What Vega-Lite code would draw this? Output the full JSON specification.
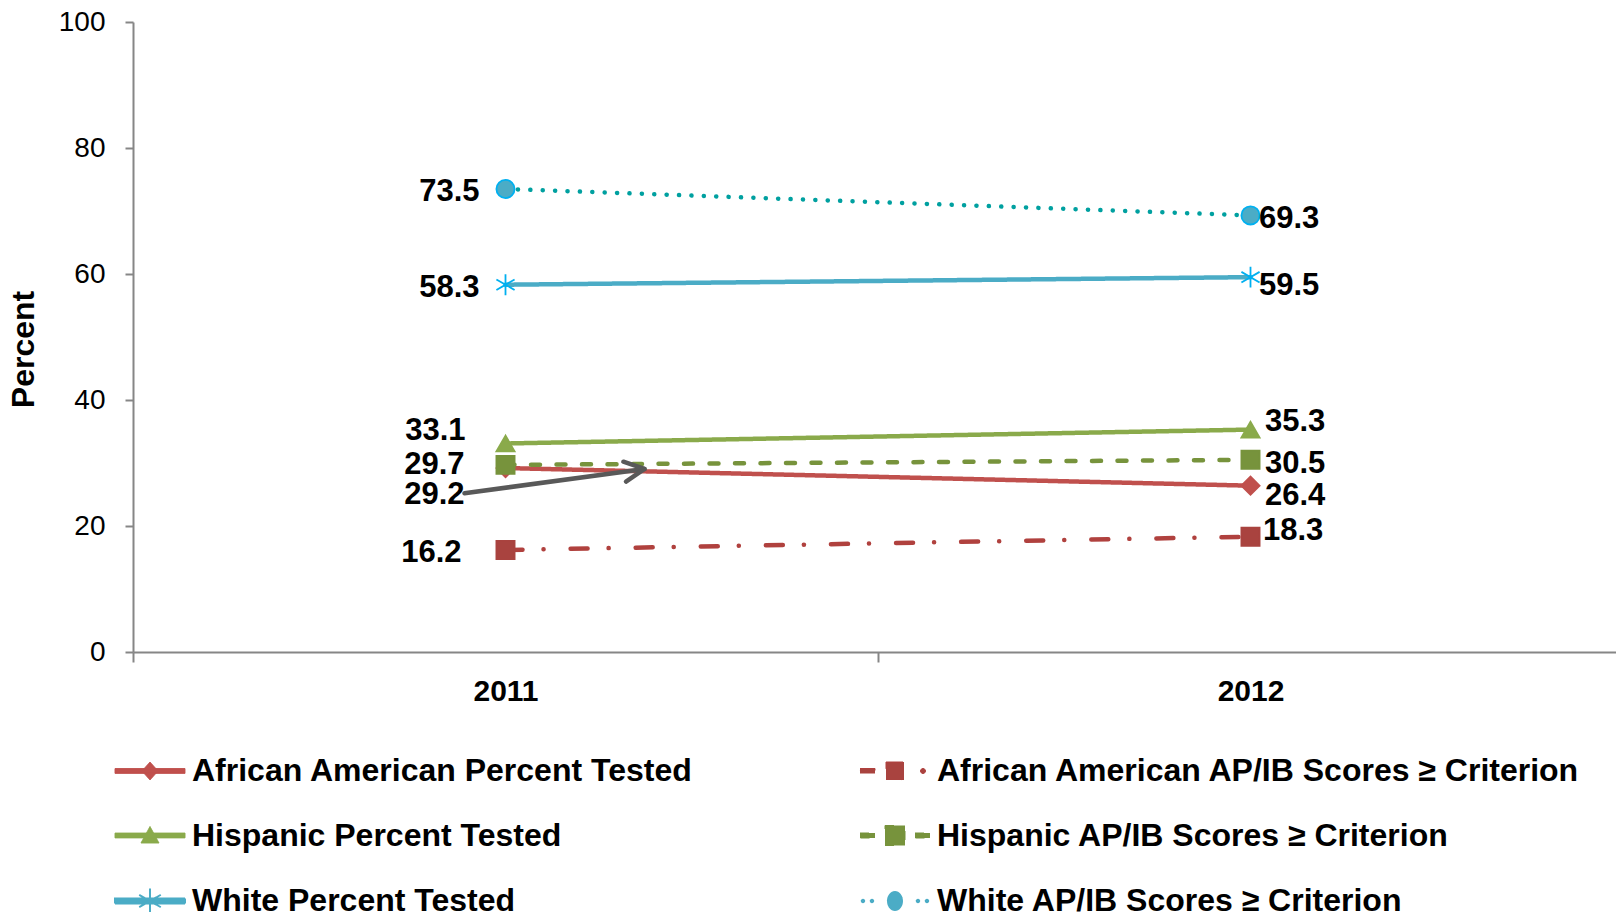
{
  "$schema": "https://vega.github.io/schema/vega-lite/v6.json",
  "width": 1490,
  "height": 630,
  "autosize": {"type": "none"},
  "padding": {"left": 133, "top": 22, "right": 0, "bottom": 260},
  "background": "white",
  "config": {"view": {"stroke": null}, "font": "Liberation Sans"},
  "data": {
    "values": [
      {"year": "2011", "series": "African American Percent Tested", "value": 29.2},
      {"year": "2012", "series": "African American Percent Tested", "value": 26.4},
      {"year": "2011", "series": "African American AP/IB Scores ≥ Criterion", "value": 16.2},
      {"year": "2012", "series": "African American AP/IB Scores ≥ Criterion", "value": 18.3},
      {"year": "2011", "series": "Hispanic  Percent Tested", "value": 33.1},
      {"year": "2012", "series": "Hispanic  Percent Tested", "value": 35.3},
      {"year": "2011", "series": "Hispanic AP/IB Scores ≥ Criterion", "value": 29.7},
      {"year": "2012", "series": "Hispanic AP/IB Scores ≥ Criterion", "value": 30.5},
      {"year": "2011", "series": "White Percent Tested", "value": 58.3},
      {"year": "2012", "series": "White Percent Tested", "value": 59.5},
      {"year": "2011", "series": "White AP/IB Scores ≥ Criterion", "value": 73.5},
      {"year": "2012", "series": "White AP/IB Scores ≥ Criterion", "value": 69.3}
    ]
  },
  "encoding": {
    "x": {
      "field": "year", "type": "nominal",
      "scale": {"type": "band", "paddingInner": 0, "paddingOuter": 0},
      "axis": {"title": null, "labelAngle": 0, "tickBand": "extent", "labelFont": "Liberation Sans", "labelFontSize": 30, "labelFontWeight": "bold", "labelColor": "#000", "domainColor": "#868686", "domainWidth": 2, "tickColor": "#868686", "tickWidth": 2, "tickSize": 10, "labelPadding": 14}
    },
    "y": {
      "field": "value", "type": "quantitative",
      "scale": {"domain": [0, 100]},
      "axis": {"title": "Percent", "values": [0, 20, 40, 60, 80, 100], "grid": false, "labelFont": "Liberation Sans", "labelFontSize": 28, "labelColor": "#000", "titleFont": "Liberation Sans", "titleFontSize": 32, "titleFontWeight": "bold", "titleColor": "#000", "titlePadding": 18, "titleY": 327, "tickSize": 8, "labelPadding": 20, "domainColor": "#868686", "tickColor": "#868686", "domainWidth": 2, "tickWidth": 2}
    }
  },
  "layer": [
    {
      "mark": {"type": "line", "strokeWidth": 4.5, "strokeCap": "round"},
      "encoding": {
        "color": {
          "field": "series", "type": "nominal",
          "scale": {
            "domain": ["African American Percent Tested", "African American AP/IB Scores ≥ Criterion", "Hispanic  Percent Tested", "Hispanic AP/IB Scores ≥ Criterion", "White Percent Tested", "White AP/IB Scores ≥ Criterion"],
            "range": ["#C0504D", "#B0413E", "#8AAA4B", "#77933C", "#4BACC6", "#00A0A0"]
          },
          "legend": {
            "title": null, "orient": "none", "legendX": 1, "legendY": 733, "columns": 2, "direction": "horizontal",
            "labelFont": "Liberation Sans", "labelFontSize": 32, "labelFontWeight": "bold", "labelColor": "#000", "labelLimit": 1000, "labelOffset": 26,
            "symbolSize": 400, "rowPadding": 32.5, "columnPadding": 165, "padding": 0,
            "encode": {
              "symbols": {
                "update": {
                  "shape": {"signal": "({'AP':'M-3.5,-0.24H3.5V0.24H-3.5Z M0,-0.9L0.8,0L0,0.9L-0.8,0Z','AS':'M-3.5,-0.25H-2V0.25H-3.5Z M-0.9,-0.9H0.9V0.9H-0.9Z M2.55,0A0.25,0.25 0 1,1 3.05,0A0.25,0.25 0 1,1 2.55,0Z','HP':'M-3.5,-0.24H3.5V0.24H-3.5Z M0,-0.9L0.9,0.75L-0.9,0.75Z','HS':'M-3.5,-0.25H-2V0.25H-3.5Z M-1,-1H1V1H-1Z M2,-0.25H3.5V0.25H2Z','WP':'M-3.5,-0.25H3.5V0.25H-3.5Z M0,-1.25V1.25 M-1.08,-0.62L1.08,0.62 M-1.08,0.62L1.08,-0.62','WS':'M-3.42,0A0.22,0.22 0 1,1 -2.98,0A0.22,0.22 0 1,1 -3.42,0Z M-2.52,0A0.22,0.22 0 1,1 -2.08,0A0.22,0.22 0 1,1 -2.52,0Z M-0.8,0A0.8,1 0 1,1 0.8,0A0.8,1 0 1,1 -0.8,0Z M2.08,0A0.22,0.22 0 1,1 2.52,0A0.22,0.22 0 1,1 2.08,0Z M2.98,0A0.22,0.22 0 1,1 3.42,0A0.22,0.22 0 1,1 2.98,0Z'})[datum.value[0] + (indexof(datum.value, 'Percent') >= 0 ? 'P' : 'S')]"},
                  "fill": {"signal": "({'AP':'#C0504D','AS':'#A9433F','HP':'#8AAA4B','HS':'#77933C','WP':'#4BACC6','WS':'#4BACC6'})[datum.value[0] + (indexof(datum.value, 'Percent') >= 0 ? 'P' : 'S')]"},
                  "stroke": {"signal": "({'AP':'#C0504D','AS':'#A9433F','HP':'#8AAA4B','HS':'#77933C','WP':'#00B0F0','WS':'#00B0F0'})[datum.value[0] + (indexof(datum.value, 'Percent') >= 0 ? 'P' : 'S')]"},
                  "strokeWidth": {"signal": "datum.value == 'White Percent Tested' ? 2 : 1"},
                  "strokeDash": {"value": [1, 0]},
                  "opacity": {"value": 1},
                  "fillOpacity": {"value": 1},
                  "size": {"value": 400}
                }
              }
            }
          }
        },
        "strokeDash": {
          "field": "series", "type": "nominal",
          "scale": {
            "domain": ["African American Percent Tested", "African American AP/IB Scores ≥ Criterion", "Hispanic  Percent Tested", "Hispanic AP/IB Scores ≥ Criterion", "White Percent Tested", "White AP/IB Scores ≥ Criterion"],
            "range": [[1, 0], [17, 21, 0.1, 27], [1, 0], [9, 16.5], [1, 0], [0.1, 12.3]]
          },
          "legend": null
        }
      }
    },
    {
      "mark": {
        "type": "point", "filled": true, "size": 330, "strokeWidth": 1.8, "opacity": 1,
        "shape": {"expr": "({'AP':'diamond','AS':'square','HP':'triangle-up','HS':'square','WP':'M0,-1.15L0,1.15M-1,-0.58L1,0.58M-1,0.58L1,-0.58','WS':'circle'})[datum.series[0] + (indexof(datum.series, 'Percent') >= 0 ? 'P' : 'S')]"},
        "fill": {"expr": "({'AP':'#C0504D','AS':'#A9433F','HP':'#8AAA4B','HS':'#77933C','WP':'#00B0F0','WS':'#4BACC6'})[datum.series[0] + (indexof(datum.series, 'Percent') >= 0 ? 'P' : 'S')]"},
        "stroke": {"expr": "({'AP':'#C0504D','AS':'#A9433F','HP':'#8AAA4B','HS':'#77933C','WP':'#00B0F0','WS':'#00B0F0'})[datum.series[0] + (indexof(datum.series, 'Percent') >= 0 ? 'P' : 'S')]"}
      },
      "encoding": {"detail": {"field": "series", "type": "nominal"}}
    },
    {
      "mark": {
        "type": "text", "font": "Liberation Sans", "fontSize": 31, "fontWeight": "bold", "color": "#000", "baseline": "middle",
        "align": {"expr": "datum.year == '2011' ? 'right' : 'left'"},
        "dx": {"expr": "({'AP2011':-41,'AS2011':-44,'HP2011':-40,'HS2011':-41,'WP2011':-26,'WS2011':-26,'AP2012':14.5,'AS2012':12.5,'HP2012':14.5,'HS2012':14.5,'WP2012':8.5,'WS2012':8.5})[datum.series[0] + (indexof(datum.series, 'Percent') >= 0 ? 'P' : 'S') + datum.year]"},
        "dy": {"expr": "({'AP2011':27,'AS2011':3,'HP2011':-12,'HS2011':0,'WP2011':3,'WS2011':3,'AP2012':10,'AS2012':-6,'HP2012':-8,'HS2012':4,'WP2012':9,'WS2012':4})[datum.series[0] + (indexof(datum.series, 'Percent') >= 0 ? 'P' : 'S') + datum.year]"}
      },
      "encoding": {"text": {"field": "value", "type": "quantitative", "format": ".1f"}}
    },
    {
      "data": {"values": [{"year": "2011", "from": 25.2, "to": 29.05}]},
      "mark": {"type": "rule", "color": "#595959", "strokeWidth": 4.5, "strokeCap": "round", "xOffset": -41, "x2Offset": 139},
      "encoding": {
        "x": {"field": "year", "type": "nominal", "bandPosition": 0.5},
        "x2": {"field": "year", "bandPosition": 0.5},
        "y": {"field": "from", "type": "quantitative"},
        "y2": {"field": "to"}
      }
    },
    {
      "data": {"values": [{"year": "2011", "from": 25.2, "to": 29.05}]},
      "mark": {"type": "point", "shape": "M-2,-1L0,0L-2,1", "size": 400, "filled": false, "stroke": "#595959", "strokeWidth": 4.5, "strokeCap": "round", "strokeJoin": "round", "angle": -7.6, "xOffset": 139, "opacity": 1},
      "encoding": {
        "x": {"field": "year", "type": "nominal"},
        "y": {"field": "to", "type": "quantitative"}
      }
    }
  ]
}
